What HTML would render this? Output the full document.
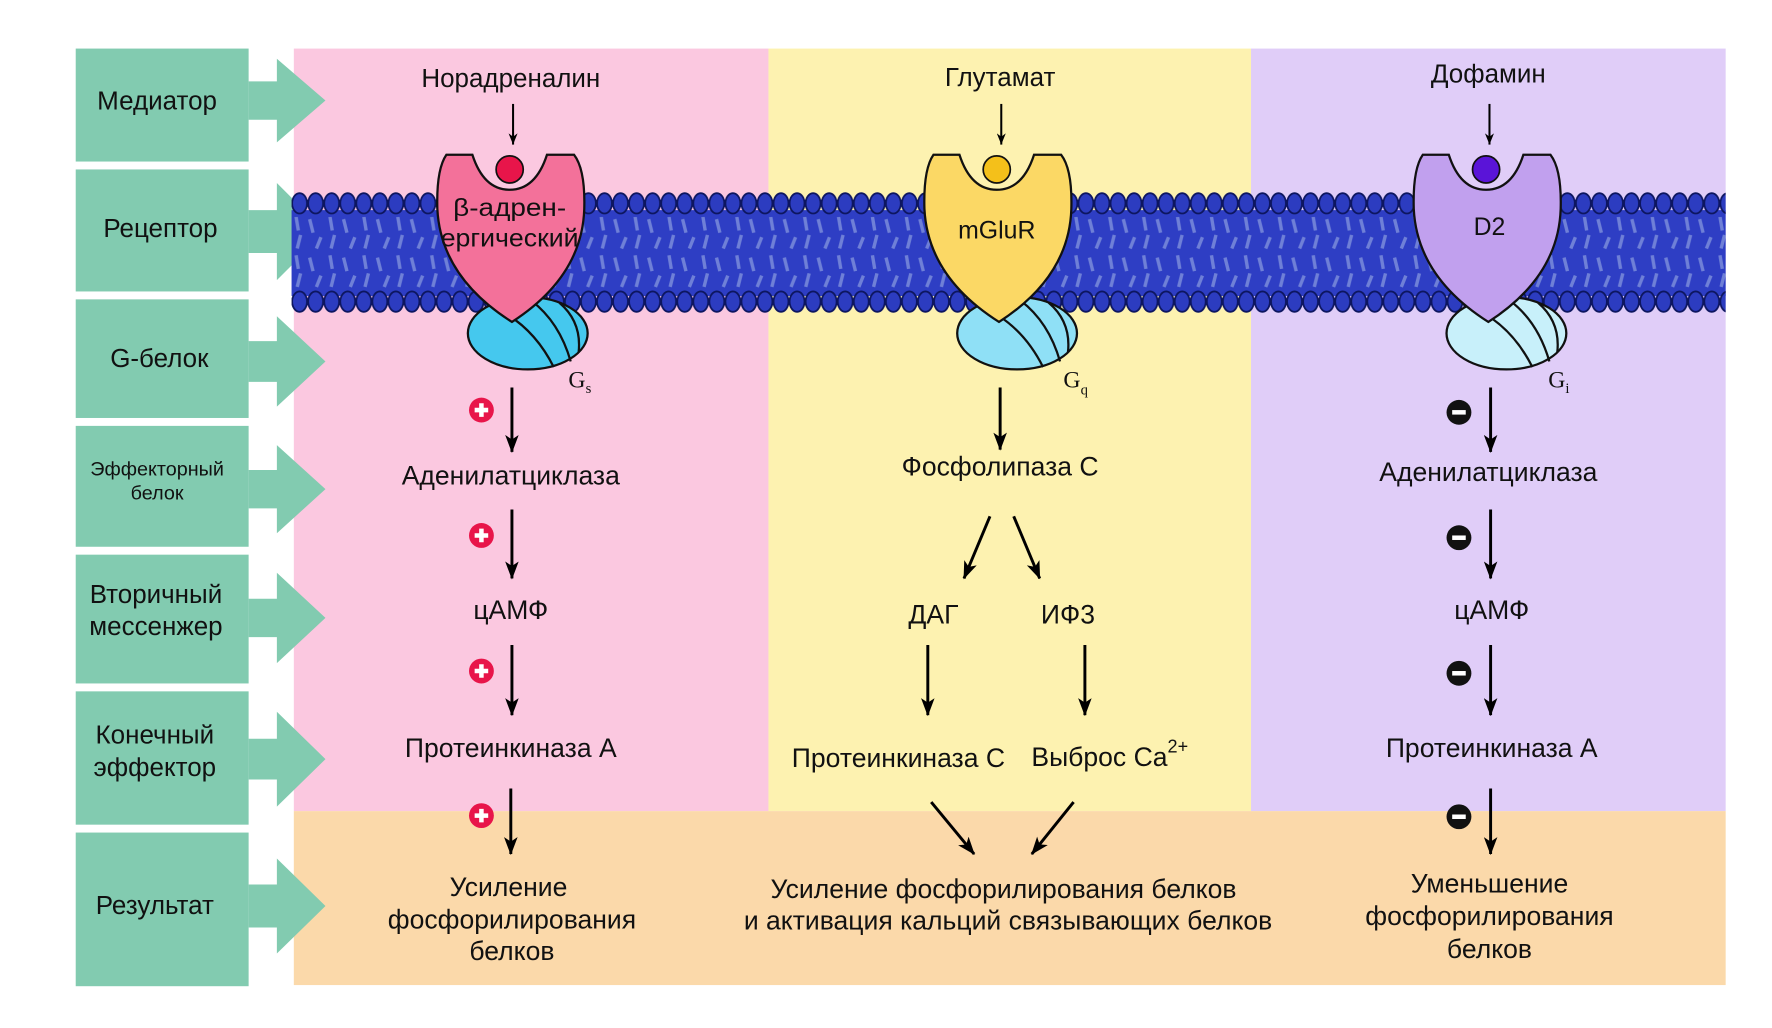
<!DOCTYPE html>
<html><head><meta charset="utf-8"><style>
html,body{margin:0;padding:0;background:#fff;}
svg{display:block}
text{font-family:"Liberation Sans",sans-serif;fill:#111;}
</style></head><body>
<svg width="1772" height="1028" viewBox="0 0 1568 910" preserveAspectRatio="none" xmlns="http://www.w3.org/2000/svg">
<defs>
<marker id="ah" markerWidth="16" markerHeight="12" refX="15" refY="6" orient="auto" markerUnits="userSpaceOnUse"><path d="M0,0 L16,6 L0,12 L4,6 Z" fill="#000"/></marker>
<marker id="ahs" markerWidth="10" markerHeight="8" refX="10" refY="4" orient="auto" markerUnits="userSpaceOnUse"><path d="M0,0 L10,4 L0,8 L3,4 Z" fill="#000"/></marker>
<pattern id="beads" x="258" y="0" width="14.2" height="910" patternUnits="userSpaceOnUse">
<ellipse cx="7.1" cy="180" rx="6.6" ry="9" fill="#2c3cc0" stroke="#0d1660" stroke-width="1.6"/>
<ellipse cx="7.1" cy="267" rx="6.6" ry="9" fill="#2c3cc0" stroke="#0d1660" stroke-width="1.6"/>
</pattern>
<pattern id="tex" x="0" y="190" width="30" height="34" patternUnits="userSpaceOnUse">
<path d="M4,4 l3,12 M14,20 l-4,10 M22,2 l2,12 M26,18 l-3,12" stroke="#7f90dc" stroke-width="3" fill="none"/>
</pattern>
</defs>
<rect x="260" y="43" width="420" height="675" fill="#fbc8e0"/>
<rect x="680" y="43" width="427" height="675" fill="#fdf2b0"/>
<rect x="1107" y="43" width="420" height="675" fill="#e0cdf8"/>
<rect x="260" y="718" width="1267" height="154" fill="#fbd9aa"/>
<g fill="#82cbb0">
<rect x="67" y="43" width="153" height="100"/>
<rect x="67" y="150" width="153" height="108"/>
<rect x="67" y="265" width="153" height="105"/>
<rect x="67" y="377" width="153" height="107"/>
<rect x="67" y="491" width="153" height="114"/>
<rect x="67" y="612" width="153" height="118"/>
<rect x="67" y="737" width="153" height="136"/>
<path d="M220,72 H245 V52 L288,89 L245,126 V106 H220Z"/>
<path d="M220,186 H245 V162 L288,205 L245,248 V224 H220Z"/>
<path d="M220,302 H245 V280 L288,320 L245,360 V338 H220Z"/>
<path d="M220,416 H245 V394 L288,433 L245,472 V450 H220Z"/>
<path d="M220,530 H245 V507 L288,547 L245,587 V564 H220Z"/>
<path d="M220,654 H245 V630 L288,672 L245,714 V690 H220Z"/>
<path d="M220,783 H245 V760 L288,802 L245,844 V821 H220Z"/>
</g>
<g font-size="23" text-anchor="middle">
<text x="139" y="97">Медиатор</text>
<text x="142" y="210">Рецептор</text>
<text x="141" y="325">G-белок</text>
<text x="139" y="421" font-size="17.5">Эффекторный</text>
<text x="139" y="442" font-size="17.5">белок</text>
<text x="138" y="534">Вторичный</text>
<text x="138" y="562">мессенжер</text>
<text x="137" y="658">Конечный</text>
<text x="137" y="687">эффектор</text>
<text x="137" y="809">Результат</text>
</g>
<rect x="258" y="186" width="1269" height="76" fill="#2e3ec4"/>
<rect x="258" y="192" width="1269" height="64" fill="url(#tex)" opacity="0.8"/>
<rect x="258" y="168" width="1269" height="112" fill="url(#beads)"/>
<g stroke="#111" stroke-width="2">
<ellipse cx="467" cy="295" rx="53" ry="32" fill="#45c8ee"/>
<path d="M432,270 Q470,285 490,325 M470,266 Q495,285 505,320 M495,268 Q515,285 512,312" fill="none"/>
<ellipse cx="900" cy="295" rx="53" ry="32" fill="#8fe0f6"/>
<path d="M865,270 Q903,285 923,325 M903,266 Q928,285 938,320 M928,268 Q948,285 945,312" fill="none"/>
<ellipse cx="1333" cy="295" rx="53" ry="32" fill="#c8f0fa"/>
<path d="M1298,270 Q1336,285 1356,325 M1336,266 Q1361,285 1371,320 M1361,268 Q1381,285 1378,312" fill="none"/>
</g>
<g font-size="21">
<text x="503" y="343" style="font-family:'Liberation Serif',serif">G<tspan font-size="13" dy="5">s</tspan></text>
<text x="941" y="343" style="font-family:'Liberation Serif',serif">G<tspan font-size="13" dy="6">q</tspan></text>
<text x="1370" y="343" style="font-family:'Liberation Serif',serif">G<tspan font-size="13" dy="5">i</tspan></text>
</g>
<g stroke="#111" stroke-width="2">
<path d="M395,137 L418,137 Q428,168 451,168 Q474,168 484,137 L508,137 Q518,150 517,185 Q515,245 453,285 Q390,245 387,185 Q386,150 395,137Z" fill="#f3719a"/>
<path d="M826,137 L849,137 Q859,168 882,168 Q905,168 915,137 L939,137 Q949,150 948,185 Q946,245 884,285 Q821,245 818,185 Q817,150 826,137Z" fill="#fbd865"/>
<path d="M1259,137 L1282,137 Q1292,168 1315,168 Q1338,168 1348,137 L1372,137 Q1382,150 1381,185 Q1379,245 1317,285 Q1254,245 1251,185 Q1250,150 1259,137Z" fill="#c1a0ee"/>
</g>
<circle cx="451" cy="150" r="12" fill="#e8154a" stroke="#111" stroke-width="1.5"/>
<circle cx="882" cy="150" r="12" fill="#f4c01a" stroke="#111" stroke-width="1.5"/>
<circle cx="1315" cy="150" r="12" fill="#5a14d8" stroke="#111" stroke-width="1.5"/>
<g font-size="22" text-anchor="middle">
<text x="451" y="191" textLength="100" lengthAdjust="spacingAndGlyphs">β-адрен-</text>
<text x="451" y="218" textLength="122" lengthAdjust="spacingAndGlyphs">ергический</text>
<text x="882" y="211">mGluR</text>
<text x="1318" y="208">D2</text>
</g>
<g font-size="23" text-anchor="middle">
<text x="452" y="77">Норадреналин</text>
<text x="885" y="76">Глутамат</text>
<text x="1317" y="73">Дофамин</text>
</g>
<g stroke="#000" stroke-width="1.8" marker-end="url(#ahs)">
<line x1="454" y1="92" x2="454" y2="128"/>
<line x1="886" y1="92" x2="886" y2="128"/>
<line x1="1318" y1="92" x2="1318" y2="128"/>
</g>
<g stroke="#000" stroke-width="2.6" marker-end="url(#ah)">
<line x1="453" y1="343" x2="453" y2="400"/>
<line x1="453" y1="451" x2="453" y2="512"/>
<line x1="453" y1="571" x2="453" y2="633"/>
<line x1="452" y1="698" x2="452" y2="756"/>
<line x1="885" y1="343" x2="885" y2="398"/>
<line x1="876" y1="457" x2="853" y2="512"/>
<line x1="897" y1="457" x2="920" y2="512"/>
<line x1="821" y1="571" x2="821" y2="633"/>
<line x1="960" y1="571" x2="960" y2="633"/>
<line x1="824" y1="710" x2="862" y2="756"/>
<line x1="950" y1="710" x2="913" y2="756"/>
<line x1="1319" y1="343" x2="1319" y2="400"/>
<line x1="1319" y1="451" x2="1319" y2="512"/>
<line x1="1319" y1="571" x2="1319" y2="633"/>
<line x1="1319" y1="698" x2="1319" y2="756"/>
</g>
<g fill="#e8154a"><circle cx="426" cy="363" r="11"/><circle cx="426" cy="474" r="11"/><circle cx="426" cy="594" r="11"/><circle cx="426" cy="722" r="11"/></g>
<g fill="#fff"><path d="M420,361h12v4h-12z M424,357h4v12h-4z"/><path d="M420,472h12v4h-12z M424,468h4v12h-4z"/><path d="M420,592h12v4h-12z M424,588h4v12h-4z"/><path d="M420,720h12v4h-12z M424,716h4v12h-4z"/></g>
<g fill="#111"><circle cx="1291" cy="365" r="11"/><circle cx="1291" cy="476" r="11"/><circle cx="1291" cy="596" r="11"/><circle cx="1291" cy="723" r="11"/></g>
<g fill="#fff"><rect x="1285" y="363" width="12" height="4"/><rect x="1285" y="474" width="12" height="4"/><rect x="1285" y="594" width="12" height="4"/><rect x="1285" y="721" width="12" height="4"/></g>
<g font-size="23.5" text-anchor="middle">
<text x="452" y="429">Аденилатциклаза</text>
<text x="885" y="421">Фосфолипаза С</text>
<text x="1317" y="426">Аденилатциклаза</text>
<text x="452" y="548">цАМФ</text>
<text x="826" y="552">ДАГ</text>
<text x="945" y="552">ИФ3</text>
<text x="1320" y="548">цАМФ</text>
<text x="452" y="670">Протеинкиназа А</text>
<text x="795" y="679">Протеинкиназа С</text>
<text x="982" y="678">Выброс Ca<tspan font-size="16" dy="-12">2+</tspan></text>
<text x="1320" y="670">Протеинкиназа А</text>
<text x="450" y="793">Усиление</text>
<text x="453" y="822">фосфорилирования</text>
<text x="453" y="850">белков</text>
<text x="888" y="795">Усиление фосфорилирования белков</text>
<text x="892" y="823">и активация кальций связывающих белков</text>
<text x="1318" y="790">Уменьшение</text>
<text x="1318" y="819">фосфорилирования</text>
<text x="1318" y="848">белков</text>
</g>
</svg>
</body></html>
